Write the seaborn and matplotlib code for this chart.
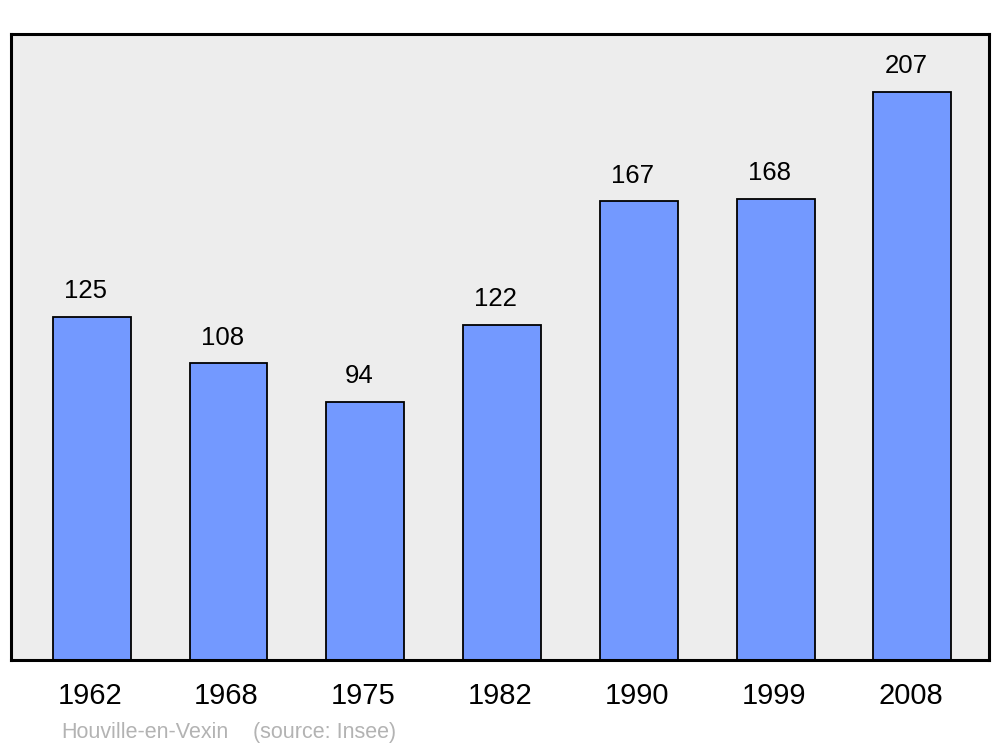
"""Population de Houville-en-Vexin, diagramme en barres."""

import matplotlib

matplotlib.use("Agg")
import matplotlib.pyplot as plt
import matplotlib.transforms as mtransforms
import pandas as pd
import seaborn as sns

years = ["1962", "1968", "1975", "1982", "1990", "1999", "2008"]
population = [125, 108, 94, 122, 167, 168, 207]
commune = "Houville-en-Vexin"
source = "(source: Insee)"

BAR_COLOR = "#7399ff"
BG_COLOR = "#ededed"

sns.set_style("white")
plt.rcParams["font.family"] = ["Liberation Sans", "DejaVu Sans"]

df = pd.DataFrame({"year": years, "population": population})

fig = plt.figure(figsize=(10, 7.47), dpi=100)
ax = fig.add_axes([0.011, 0.1165, 0.978, 0.838])
ax.set_facecolor(BG_COLOR)

sns.barplot(
    data=df,
    x="year",
    y="population",
    color=BAR_COLOR,
    saturation=1,
    width=0.57,
    edgecolor="black",
    linewidth=1.3,
    ax=ax,
)

# valeurs au-dessus des barres
for i, value in enumerate(population):
    ax.annotate(
        str(value),
        xy=(i, value),
        xytext=(-4.5, 18.5),
        textcoords="offset points",
        ha="center",
        va="center",
        fontsize=18.5,
        color="black",
    )

ax.set_xlim(-0.59, 6.56)
ax.set_ylim(0, 228)
ax.set_xlabel("")
ax.set_ylabel("")
ax.set_yticks([])
ax.tick_params(axis="x", length=0, pad=16, labelsize=21, colors="black")
shift = mtransforms.ScaledTranslation(-2 / 100, 0, fig.dpi_scale_trans)
for label in ax.get_xticklabels():
    label.set_transform(label.get_transform() + shift)

for spine in ax.spines.values():
    spine.set_visible(True)
    spine.set_color("black")
    spine.set_linewidth(2.2)

fig.text(0.061, 0.020, commune, fontsize=15.5, color="#b3b3b3", ha="left", va="center")
fig.text(0.253, 0.020, source, fontsize=15.5, color="#b3b3b3", ha="left", va="center")

fig.savefig("out.png", dpi=100, facecolor="white")
plt.close(fig)
